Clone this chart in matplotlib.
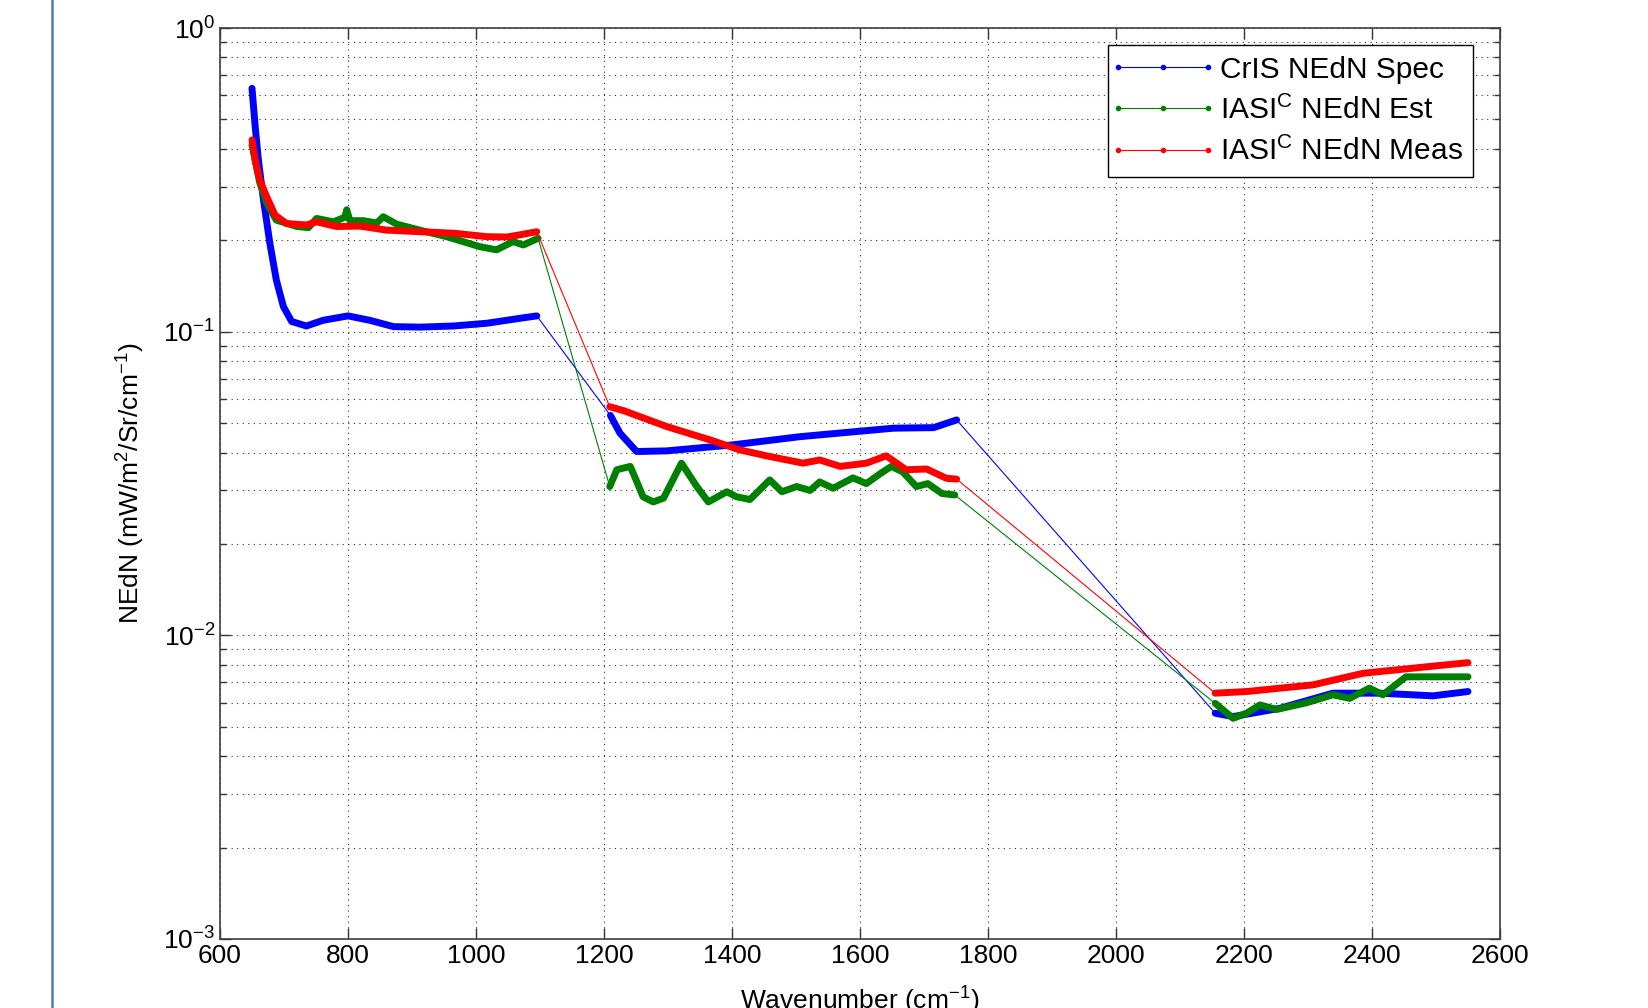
import numpy as np
import matplotlib
matplotlib.use("Agg")
import matplotlib.pyplot as plt
from matplotlib.lines import Line2D
from matplotlib.ticker import LogLocator, LogFormatterMathtext, NullFormatter

plt.rcParams['font.family'] = ['Liberation Sans', 'DejaVu Sans']
plt.rcParams['mathtext.fontset'] = 'custom'
plt.rcParams['mathtext.rm'] = 'Liberation Sans'
plt.rcParams['mathtext.it'] = 'Liberation Sans:italic'
plt.rcParams['mathtext.bf'] = 'Liberation Sans:bold'

# CrIS NEdN spec
blue_x = [650, 655, 660, 668, 678, 688, 699, 712, 735, 761, 800, 834, 871, 912, 965, 1017, 1069, 1095,
          1210, 1225, 1251, 1298, 1402, 1506, 1652, 1715, 1751,
          2155, 2183, 2256, 2339, 2412, 2495, 2550]
blue_y = [0.633, 0.473, 0.367, 0.271, 0.195, 0.148, 0.121, 0.108, 0.1044, 0.109, 0.1127, 0.109, 0.1039,
          0.1035, 0.1044, 0.1066, 0.1107, 0.1127,
          0.053, 0.0463, 0.0403, 0.0405, 0.0424, 0.0451, 0.0481, 0.0483, 0.0512,
          0.00554, 0.0054, 0.00575, 0.00645, 0.00645, 0.00632, 0.00653]

# IASI^C NEdN est
green_x = [650, 662, 673, 688, 720, 738, 751, 777, 795, 798, 803, 824, 845, 855, 876, 912, 954, 1006, 1032,
           1058, 1074, 1097,
           1209, 1220, 1241, 1248, 1261, 1277, 1293, 1321, 1345, 1363, 1392, 1407, 1428, 1459, 1478, 1501,
           1522, 1537, 1558, 1589, 1610, 1631, 1649, 1667, 1688, 1706, 1728, 1748,
           2155, 2183, 2204, 2225, 2251, 2298, 2339, 2365, 2396, 2417, 2453, 2495, 2550]
green_y = [0.412, 0.31, 0.265, 0.233, 0.222, 0.220, 0.236, 0.230, 0.238, 0.252, 0.232, 0.232, 0.228, 0.239,
           0.226, 0.216, 0.2055, 0.1905, 0.186, 0.198, 0.193, 0.203,
           0.0309, 0.0351, 0.036, 0.0333, 0.0286, 0.0275, 0.0283, 0.0369, 0.0309, 0.0275, 0.0297, 0.0286,
           0.028, 0.0325, 0.0297, 0.0309, 0.030, 0.032, 0.0305, 0.033, 0.0316, 0.034, 0.036, 0.0345, 0.0309,
           0.0316, 0.0293, 0.029,
           0.00597, 0.00533, 0.00554, 0.0059, 0.0057, 0.0060, 0.00637, 0.0062, 0.0067, 0.00637, 0.0073,
           0.0073, 0.0073]

# IASI^C NEdN meas
red_x = [650, 655, 662, 673, 686, 704, 735, 751, 782, 819, 860, 912, 965, 1017, 1048, 1069, 1095,
         1209, 1230, 1298, 1366, 1412, 1459, 1511, 1537, 1569, 1610, 1641, 1672, 1704, 1735, 1751,
         2155, 2204, 2308, 2386, 2465, 2550]
red_y = [0.428, 0.367, 0.316, 0.278, 0.242, 0.227, 0.2246, 0.230, 0.222, 0.2226, 0.216, 0.2134, 0.211,
         0.2055, 0.205, 0.2085, 0.2134,
         0.0566, 0.055, 0.0487, 0.044, 0.0408, 0.0388, 0.0369, 0.0378, 0.036, 0.0369, 0.039, 0.0351,
         0.0353, 0.0329, 0.0327,
         0.00645, 0.00653, 0.00687, 0.0075, 0.0078, 0.00813]

# gaps between the three spectral bands
band_gaps = [1150, 1950]

series = [
    (blue_x, blue_y, (0, 0, 1), 'CrIS NEdN Spec'),
    (green_x, green_y, (0, 0.5, 0), r'IASI$^\mathrm{C}$ NEdN Est'),
    (red_x, red_y, (1, 0, 0), r'IASI$^\mathrm{C}$ NEdN Meas'),
]

fig = plt.figure(figsize=(16.48, 10.08), dpi=100)
ax = fig.add_axes([220 / 1648, 1 - 939 / 1008, 1280 / 1648, 911 / 1008])

for x, y, c, lab in series:
    x = np.array(x, dtype=float)
    y = np.array(y)
    # thin line joins the bands, like the MATLAB '.-' plot
    ax.plot(x, y, '-', color=c, lw=0.8, marker='.', markersize=6, markevery=[], label=lab)
    # dense markers make each band look thick
    breaks = np.searchsorted(x, band_gaps)
    for bx, by in zip(np.split(x, breaks), np.split(y, breaks)):
        ax.plot(bx, by, '-', color=c, lw=5, solid_capstyle='round', solid_joinstyle='round')

ax.set_yscale('log')
ax.set_xlim(600, 2600)
ax.set_ylim(1e-3, 1e0)
ax.set_xticks(np.arange(600, 2601, 200))
ax.yaxis.set_major_locator(LogLocator(base=10, numticks=10))
ax.yaxis.set_major_formatter(LogFormatterMathtext())
ax.yaxis.set_minor_locator(LogLocator(base=10, subs=np.arange(2, 10), numticks=20))
ax.yaxis.set_minor_formatter(NullFormatter())

ax.grid(True, which='major', linestyle=(0, (1, 4)), color='0.2', lw=0.8)
ax.grid(True, which='minor', axis='y', linestyle=(0, (1, 4)), color='0.2', lw=0.8)
ax.tick_params(which='both', direction='in', top=True, right=True, labelsize=19, colors='0.2',
               labelcolor='black')
ax.tick_params(which='major', length=8, width=1)
ax.tick_params(which='minor', length=4, width=1)
for s in ax.spines.values():
    s.set_color('0.25')
    s.set_linewidth(1.2)

ax.set_xlabel('Wavenumber (cm$^{-1}$)', fontsize=19, labelpad=12)
ax.set_ylabel('NEdN (mW/m$^2$/Sr/cm$^{-1}$)', fontsize=19, labelpad=12)

leg = ax.legend(loc='upper right', bbox_to_anchor=(0.979, 0.981), fontsize=21.5, fancybox=False,
                framealpha=1, edgecolor='black', handlelength=3.0, borderpad=0.35, labelspacing=0.4,
                handletextpad=0.4, borderaxespad=0)
leg.get_frame().set_linewidth(1.0)
for h in leg.legend_handles:
    h.set_marker('.')
    h.set_markersize(6)
    h.set_markevery(None)

# blue rule down the left edge of the slide
fig.add_artist(Line2D([52 / 1648, 52 / 1648], [0, 1], transform=fig.transFigure,
                      color='#4A7EBB', lw=1.8))

fig.savefig('out.png', dpi=100)
